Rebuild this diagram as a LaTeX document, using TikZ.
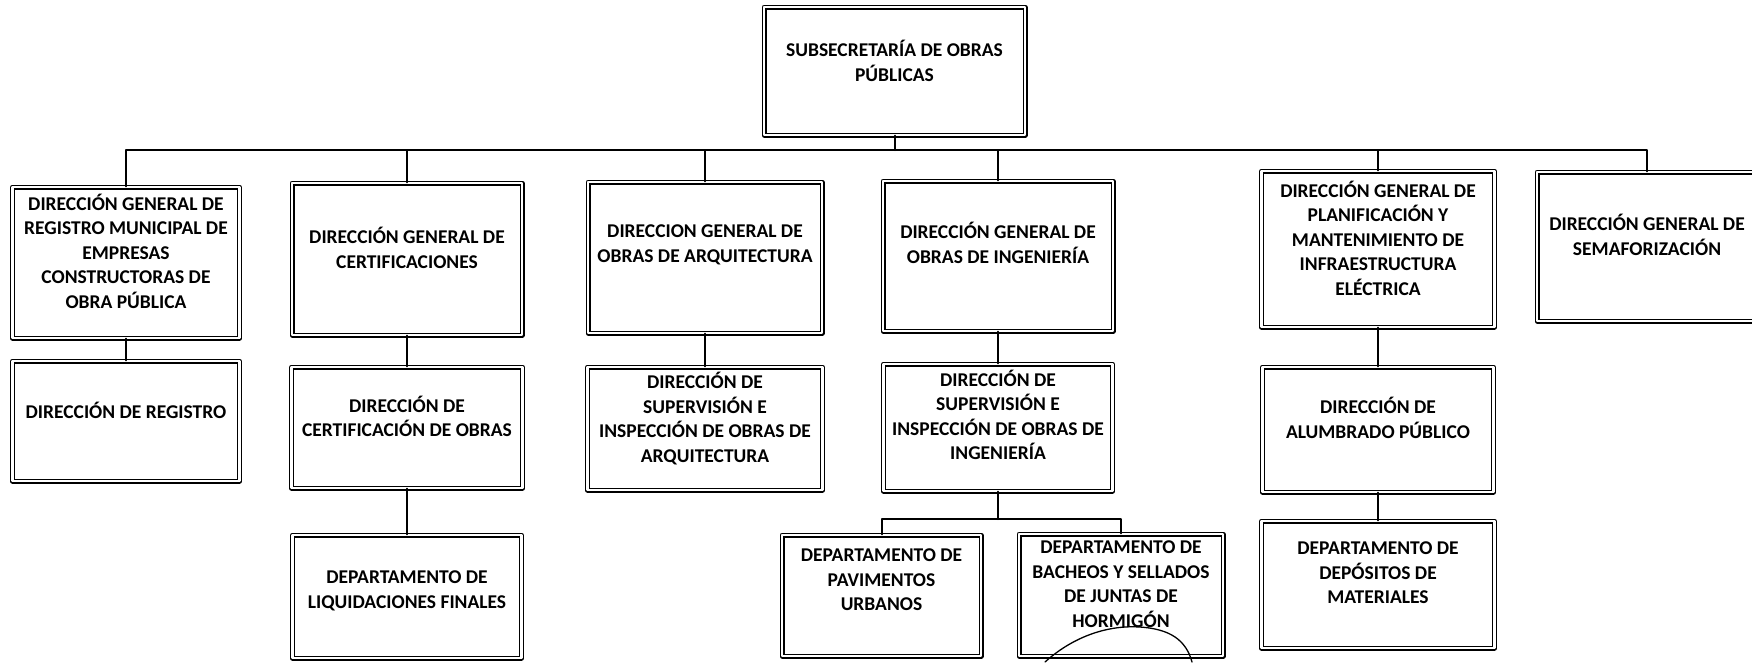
\documentclass[tikz,border=0pt]{standalone}
\usepackage{fontspec}
\setmainfont{Carlito}
\begin{document}
\begin{tikzpicture}[x=1pt, y=-1pt, line join=round, line cap=round,
	caja/.style={draw, double, line width=1.2pt, double distance=2.6pt, inner sep=0pt},
	txt/.style={align=center, font=\bfseries\fontsize{19.5}{24.5}\selectfont, inner sep=0pt},
	linea/.style={line width=2pt}]
	\fill[white] (0,0) rectangle (1752,662);
	\useasboundingbox (0,0) rectangle (1752,662);
	\clip (0,0) rectangle (1752,662);
	% cabecera
	\node[caja, minimum width=261pt, minimum height=128pt] (sub) at (894.5,71) {};
	\node[txt] (subt) at ([yshift=10pt]sub.center) {SUBSECRETARÍA DE OBRAS\\PÚBLICAS};
	% direcciones generales
	\node[caja, minimum width=227pt, minimum height=151pt] (dgreg) at (126,262.5) {};
	\node[txt] (dgregt) at ([yshift=11.5pt]dgreg.center) {DIRECCIÓN GENERAL DE\\REGISTRO MUNICIPAL DE\\EMPRESAS\\CONSTRUCTORAS DE\\OBRA PÚBLICA};
	\node[caja, minimum width=230pt, minimum height=152pt] (dgcert) at (407,259) {};
	\node[txt] (dgcertt) at ([yshift=11pt]dgcert.center) {DIRECCIÓN GENERAL DE\\CERTIFICACIONES};
	\node[caja, minimum width=234pt, minimum height=151pt] (dgarq) at (705,257.5) {};
	\node[txt] (dgarqt) at ([yshift=12.5pt]dgarq.center) {DIRECCION GENERAL DE\\OBRAS DE ARQUITECTURA};
	\node[caja, minimum width=230pt, minimum height=150pt] (dging) at (998,256) {};
	\node[txt] (dgingt) at ([yshift=13pt]dging.center) {DIRECCIÓN GENERAL DE\\OBRAS DE INGENIERÍA};
	\node[caja, minimum width=233pt, minimum height=156pt] (dgplan) at (1378,249) {};
	\node[txt] (dgplant) at ([yshift=11pt]dgplan.center) {DIRECCIÓN GENERAL DE\\PLANIFICACIÓN Y\\MANTENIMIENTO DE\\INFRAESTRUCTURA\\ELÉCTRICA};
	\node[caja, minimum width=220pt, minimum height=149pt] (dgsem) at (1647,246.5) {};
	\node[txt] (dgsemt) at ([yshift=11.5pt]dgsem.center) {DIRECCIÓN GENERAL DE\\SEMAFORIZACIÓN};
	% direcciones
	\node[caja, minimum width=227pt, minimum height=120pt] (dreg) at (126,421) {};
	\node[txt] (dregt) at ([yshift=11pt]dreg.center) {DIRECCIÓN DE REGISTRO};
	\node[caja, minimum width=231pt, minimum height=121pt] (dcert) at (407,427.5) {};
	\node[txt] (dcertt) at ([yshift=11pt]dcert.center) {DIRECCIÓN DE\\CERTIFICACIÓN DE OBRAS};
	\node[caja, minimum width=235pt, minimum height=123pt] (dsarq) at (705,428.5) {};
	\node[txt] (dsarqt) at ([yshift=10pt]dsarq.center) {DIRECCIÓN DE\\SUPERVISIÓN E\\INSPECCIÓN DE OBRAS DE\\ARQUITECTURA};
	\node[caja, minimum width=229pt, minimum height=127pt] (dsing) at (998,427.5) {};
	\node[txt] (dsingt) at ([yshift=12.5pt]dsing.center) {DIRECCIÓN DE\\SUPERVISIÓN E\\INSPECCIÓN DE OBRAS DE\\INGENIERÍA};
	\node[caja, minimum width=231pt, minimum height=125pt] (dalum) at (1378,429.5) {};
	\node[txt] (dalumt) at ([yshift=11.5pt]dalum.center) {DIRECCIÓN DE\\ALUMBRADO PÚBLICO};
	% departamentos
	\node[caja, minimum width=229pt, minimum height=123pt] (dliq) at (407,596.5) {};
	\node[txt] (dliqt) at ([yshift=5.5pt]dliq.center) {DEPARTAMENTO DE\\LIQUIDACIONES FINALES};
	\node[caja, minimum width=199pt, minimum height=121pt] (dpav) at (881.5,595.5) {};
	\node[txt] (dpavt) at ([yshift=15.5pt]dpav.center) {DEPARTAMENTO DE\\PAVIMENTOS\\URBANOS};
	\node[caja, minimum width=204pt, minimum height=122pt] (dbach) at (1121,595) {};
	\node[txt] (dbacht) at ([yshift=11pt]dbach.center) {DEPARTAMENTO DE\\BACHEOS Y SELLADOS\\DE JUNTAS DE\\HORMIGÓN};
	\node[caja, minimum width=233pt, minimum height=127pt] (ddep) at (1378,584.5) {};
	\node[txt] (ddept) at ([yshift=11.5pt]ddep.center) {DEPARTAMENTO DE\\DEPÓSITOS DE\\MATERIALES};
	% conectores
	\coordinate (bus) at (894.5,150);
	\coordinate (sbus) at (998,519);
	\draw[linea] (sub.south) -- (bus);
	\draw[linea] (bus) -| (dgreg.north);
	\draw[linea] (bus) -| (dgcert.north);
	\draw[linea] (bus) -| (dgarq.north);
	\draw[linea] (bus) -| (dging.north);
	\draw[linea] (bus) -| (dgplan.north);
	\draw[linea] (bus) -| (dgsem.north);
	\draw[linea] (dgreg.south) -- (dreg.north);
	\draw[linea] (dgcert.south) -- (dcert.north);
	\draw[linea] (dcert.south) -- (dliq.north);
	\draw[linea] (dgarq.south) -- (dsarq.north);
	\draw[linea] (dging.south) -- (dsing.north);
	\draw[linea] (dsing.south) -- (sbus);
	\draw[linea] (sbus) -| (dpav.north);
	\draw[linea] (sbus) -| (dbach.north);
	\draw[linea] (dgplan.south) -- (dalum.north);
	\draw[linea] (dalum.south) -- (ddep.north);
	% trazo a mano
	\draw[line width=1.3pt] (1045,662) .. controls (1075,635) and (1110,625) .. (1140,627) .. controls (1170,629) and (1186,640) .. (1192,662);
\end{tikzpicture}
\end{document}
